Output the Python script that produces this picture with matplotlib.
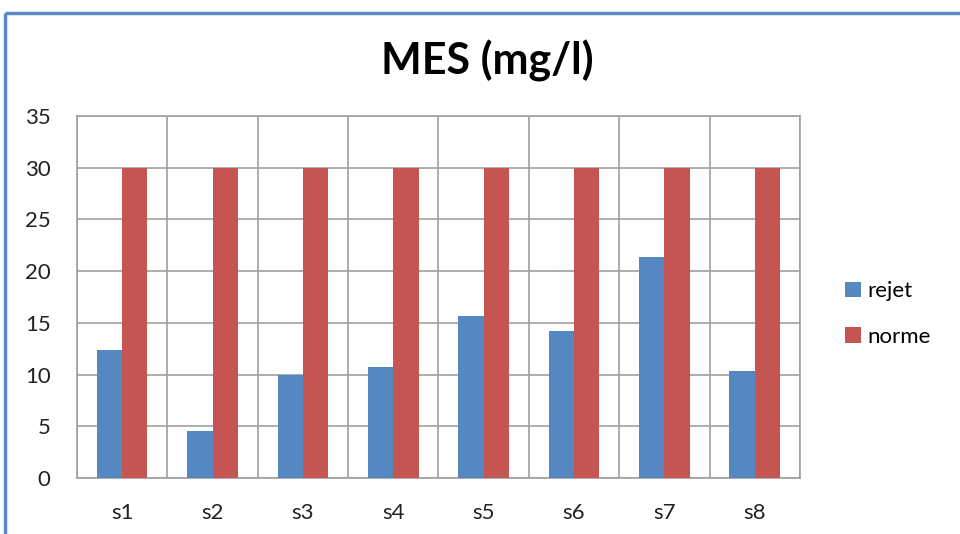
import matplotlib
matplotlib.use("Agg")
import matplotlib.pyplot as plt
from matplotlib.lines import Line2D
import numpy as np

categories = ["s1", "s2", "s3", "s4", "s5", "s6", "s7", "s8"]
rejet = [12.4, 4.5, 10.0, 10.7, 15.7, 14.2, 21.4, 10.3]
norme = [30, 30, 30, 30, 30, 30, 30, 30]
yticks = [0, 5, 10, 15, 20, 25, 30, 35]

plt.rcParams['font.family'] = ['Lato', 'DejaVu Sans']

fig = plt.figure(figsize=(9.6, 5.34), dpi=100)
ax = fig.add_axes([0.0802, 0.1049, 0.7531, 0.678])

x = np.arange(len(categories))
w = 0.28
ax.bar(x - w/2, rejet, w, color="#5587c2", label="rejet", zorder=3)
ax.bar(x + w/2, norme, w, color="#c45552", label="norme", zorder=3)

ax.set_xlim(-0.5, len(categories) - 0.5)
ax.set_ylim(0, 35)
ax.set_yticks(yticks)
ax.set_xticks(x)
ax.set_xticklabels(categories)
for b in np.arange(-0.5, len(categories), 1.0):
    ax.axvline(b, color="#a0a0a0", lw=1.2, zorder=1)
ax.yaxis.grid(True, color="#a0a0a0", lw=1.2, zorder=1)
for s in ax.spines.values():
    s.set_color("#a0a0a0")
    s.set_linewidth(1.2)
ax.tick_params(axis="both", length=0, labelsize=16, colors="#222222")
ax.tick_params(axis="y", pad=19)
ax.tick_params(axis="x", pad=18)

fig.text(0.508, 0.885, "MES (mg/l)", ha="center", va="center",
         fontsize=31, fontweight="bold", color="black")

ax.legend(loc="center left", bbox_to_anchor=(1.047, 0.453), frameon=False,
          fontsize=16, handlelength=0.7, handleheight=0.7,
          labelspacing=1.15, handletextpad=0.3, borderpad=0)

bc = "#5a88c3"
fig.add_artist(Line2D([0.005, 1.0], [0.9757, 0.9757], color=bc, lw=2.5,
                      transform=fig.transFigure, solid_capstyle="butt"))
fig.add_artist(Line2D([0.005, 0.005], [0.0, 0.9757], color=bc, lw=2.5,
                      transform=fig.transFigure, solid_capstyle="butt"))

fig.savefig("out.png", dpi=100, facecolor="white")
